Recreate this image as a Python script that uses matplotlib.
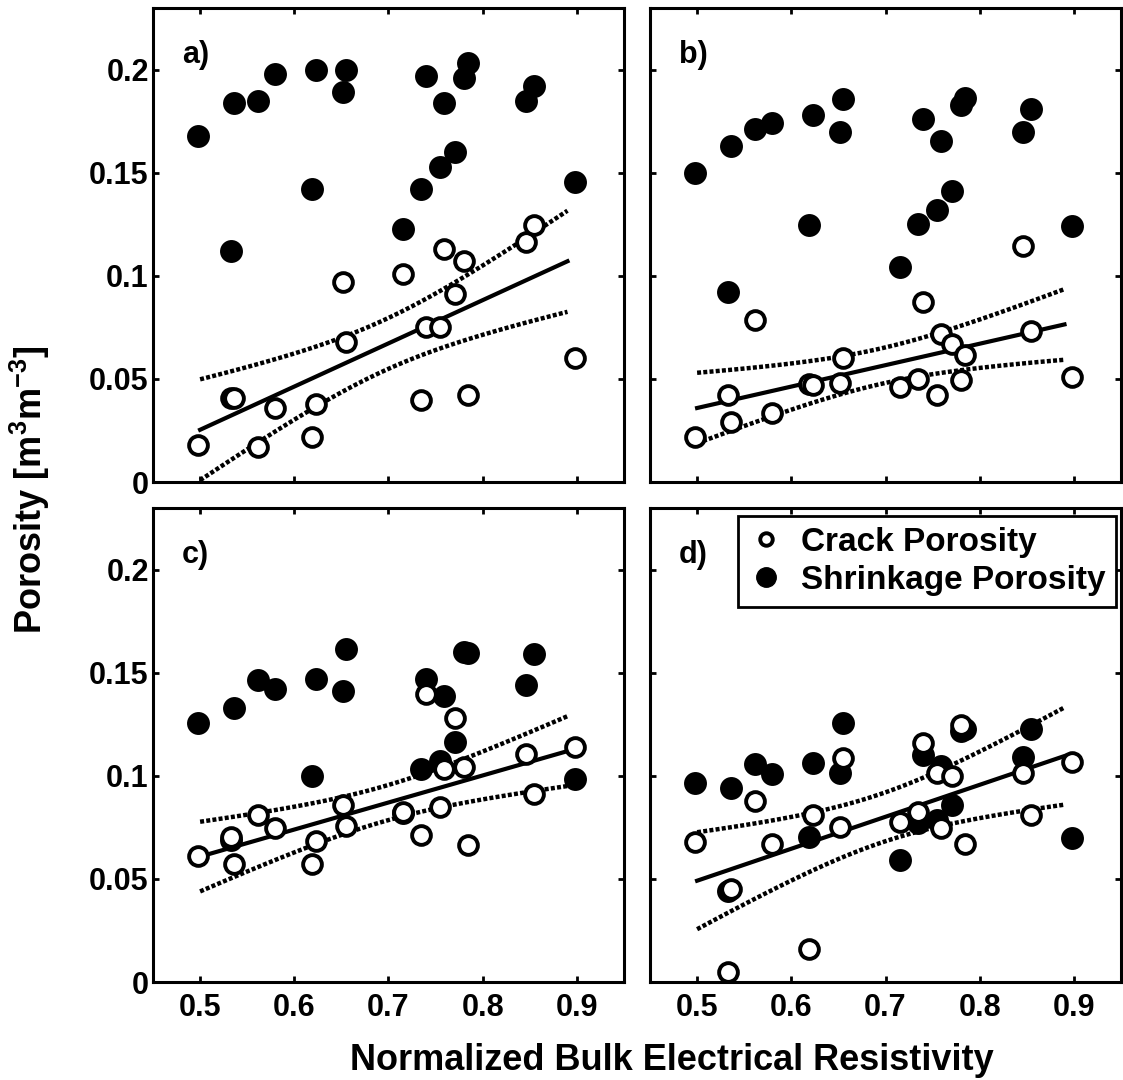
import numpy as np
import matplotlib
matplotlib.use("Agg")
import matplotlib.pyplot as plt
from matplotlib.lines import Line2D

plt.rcParams['font.family'] = ['Liberation Sans', 'DejaVu Sans']
plt.rcParams['font.weight'] = 'bold'
plt.rcParams['mathtext.fontset'] = 'custom'
plt.rcParams['mathtext.rm'] = 'Liberation Sans:bold'
plt.rcParams['mathtext.bf'] = 'Liberation Sans:bold'
plt.rcParams['mathtext.default'] = 'bf'

# normalized bulk electrical resistivity, one value per sample
resistivity = [0.498, 0.533, 0.536, 0.561, 0.580, 0.619, 0.623, 0.652, 0.655, 0.715,
               0.735, 0.740, 0.755, 0.759, 0.771, 0.780, 0.784, 0.846, 0.854, 0.898]

crack_a = [0.018, 0.041, 0.041, 0.017, 0.036, 0.022, 0.038, 0.097, 0.068, 0.101,
           0.040, 0.075, 0.075, 0.113, 0.091, 0.107, 0.042, 0.1165, 0.1248, 0.060]
shrink_a = [0.168, 0.112, 0.184, 0.185, 0.198, 0.142, 0.200, 0.189, 0.200, 0.123,
            0.142, 0.197, 0.153, 0.184, 0.160, 0.196, 0.2035, 0.185, 0.192, 0.1455]

crack_b = [0.022, 0.0422, 0.0293, 0.0786, 0.0333, 0.0476, 0.0471, 0.0479, 0.060, 0.0463,
           0.0498, 0.0875, 0.0422, 0.0718, 0.067, 0.0495, 0.0617, 0.1146, 0.0735, 0.0511]
shrink_b = [0.1498, 0.0924, 0.1628, 0.1712, 0.1741, 0.1246, 0.1782, 0.1696, 0.1858, 0.1045,
            0.125, 0.176, 0.132, 0.1655, 0.1413, 0.183, 0.1863, 0.1696, 0.181, 0.124]

crack_c = [0.0609, 0.0706, 0.0574, 0.0811, 0.0746, 0.0574, 0.0682, 0.0859, 0.0757, 0.0827,
           0.0711, 0.1396, 0.0851, 0.1032, 0.1279, 0.1045, 0.0666, 0.1106, 0.0912, 0.1138]
shrink_c = [0.1259, 0.069, 0.133, 0.1464, 0.142, 0.0999, 0.1472, 0.1412, 0.1618, 0.082,
            0.1032, 0.1472, 0.1074, 0.1388, 0.1166, 0.160, 0.1597, 0.144, 0.159, 0.0983]

crack_d = [0.0677, 0.0049, 0.0451, 0.088, 0.067, 0.0162, 0.081, 0.0754, 0.1085, 0.0778,
           0.0827, 0.116, 0.1013, 0.0746, 0.100, 0.1246, 0.067, 0.1013, 0.081, 0.1069]
shrink_d = [0.0964, 0.044, 0.094, 0.1058, 0.1009, 0.0703, 0.1061, 0.1016, 0.1258, 0.059,
            0.077, 0.1101, 0.0787, 0.1048, 0.0859, 0.122, 0.123, 0.1093, 0.123, 0.0698]

panels = [("a)", crack_a, shrink_a), ("b)", crack_b, shrink_b),
          ("c)", crack_c, shrink_c), ("d)", crack_d, shrink_d)]

T95 = 2.101  # t(0.975, 18)


def fit_band(x, y, xf):
    x = np.asarray(x)
    y = np.asarray(y)
    n = len(x)
    b, a = np.polyfit(x, y, 1)
    res = y - (a + b * x)
    s = np.sqrt(np.sum(res ** 2) / (n - 2))
    sxx = np.sum((x - x.mean()) ** 2)
    yf = a + b * xf
    hw = T95 * s * np.sqrt(1.0 / n + (xf - x.mean()) ** 2 / sxx)
    return yf, yf - hw, yf + hw


fig = plt.figure(figsize=(11.23, 10.8), dpi=100)
W, H = 1123.0, 1080.0
boxes = [(153, 8), (650, 8), (153, 508), (650, 508)]
aw, ah = 471, 474

xf = np.linspace(0.5, 0.89, 60)

for i, (lab, crack, shrink) in enumerate(panels):
    left, top = boxes[i]
    ax = fig.add_axes([left / W, 1 - (top + ah) / H, aw / W, ah / H])

    yf, lo, hi = fit_band(resistivity, crack, xf)
    ax.plot(xf, yf, '-', color='black', lw=3, zorder=2)
    ax.plot(xf, lo, color='black', lw=3.2, ls=(0, (0.9, 0.5)), zorder=2)
    ax.plot(xf, hi, color='black', lw=3.2, ls=(0, (0.9, 0.5)), zorder=2)

    ax.plot(resistivity, shrink, 'o', ms=15, mfc='black', mec='black', mew=1.5, zorder=3)
    ax.plot(resistivity, crack, 'o', ms=13.5, mfc='white', mec='black', mew=2.8, zorder=4)

    ax.set_xlim(0.45, 0.95)
    ax.set_ylim(0, 0.23)
    ax.set_xticks([0.5, 0.6, 0.7, 0.8, 0.9])
    ax.set_yticks([0, 0.05, 0.1, 0.15, 0.2])
    ax.set_xticklabels(["0.5", "0.6", "0.7", "0.8", "0.9"])
    ax.set_yticklabels(["0", "0.05", "0.1", "0.15", "0.2"])
    ax.tick_params(direction='in', length=4, width=2, top=True, right=True,
                   labelsize=22)
    ax.tick_params(axis='x', pad=8)
    ax.tick_params(axis='y', pad=3)
    for sp in ax.spines.values():
        sp.set_linewidth(2.2)
    if i % 2 == 1:
        ax.set_yticklabels([])
    if i < 2:
        ax.set_xticklabels([])

    ax.text(0.061, 0.884, lab, transform=ax.transAxes, fontsize=22,
            fontweight='bold', va='baseline', ha='left')

    if i == 3:
        handles = [
            Line2D([], [], ls='none', marker='o', ms=9, mfc='white', mec='black', mew=2.8),
            Line2D([], [], ls='none', marker='o', ms=14, mfc='black', mec='black'),
        ]
        leg = ax.legend(handles, ["Crack Porosity", "Shrinkage Porosity"],
                        loc='upper right', bbox_to_anchor=(0.989, 0.983),
                        fontsize=24, frameon=True, fancybox=False,
                        edgecolor='black', framealpha=1, borderpad=0.32,
                        labelspacing=0.22, handlelength=1.0, handletextpad=0.55,
                        borderaxespad=0.0)
        leg.get_frame().set_linewidth(2.0)

fig.text(672 / W, 1 - 1070 / H, "Normalized Bulk Electrical Resistivity",
         ha='center', va='baseline', fontsize=26, fontweight='bold')
fig.text(30 / W, 1 - 490 / H, r"Porosity [m$^{3}$m$^{-3}$]", rotation=90,
         ha='center', va='center', fontsize=26, fontweight='bold')

fig.savefig("out.png", dpi=100)
